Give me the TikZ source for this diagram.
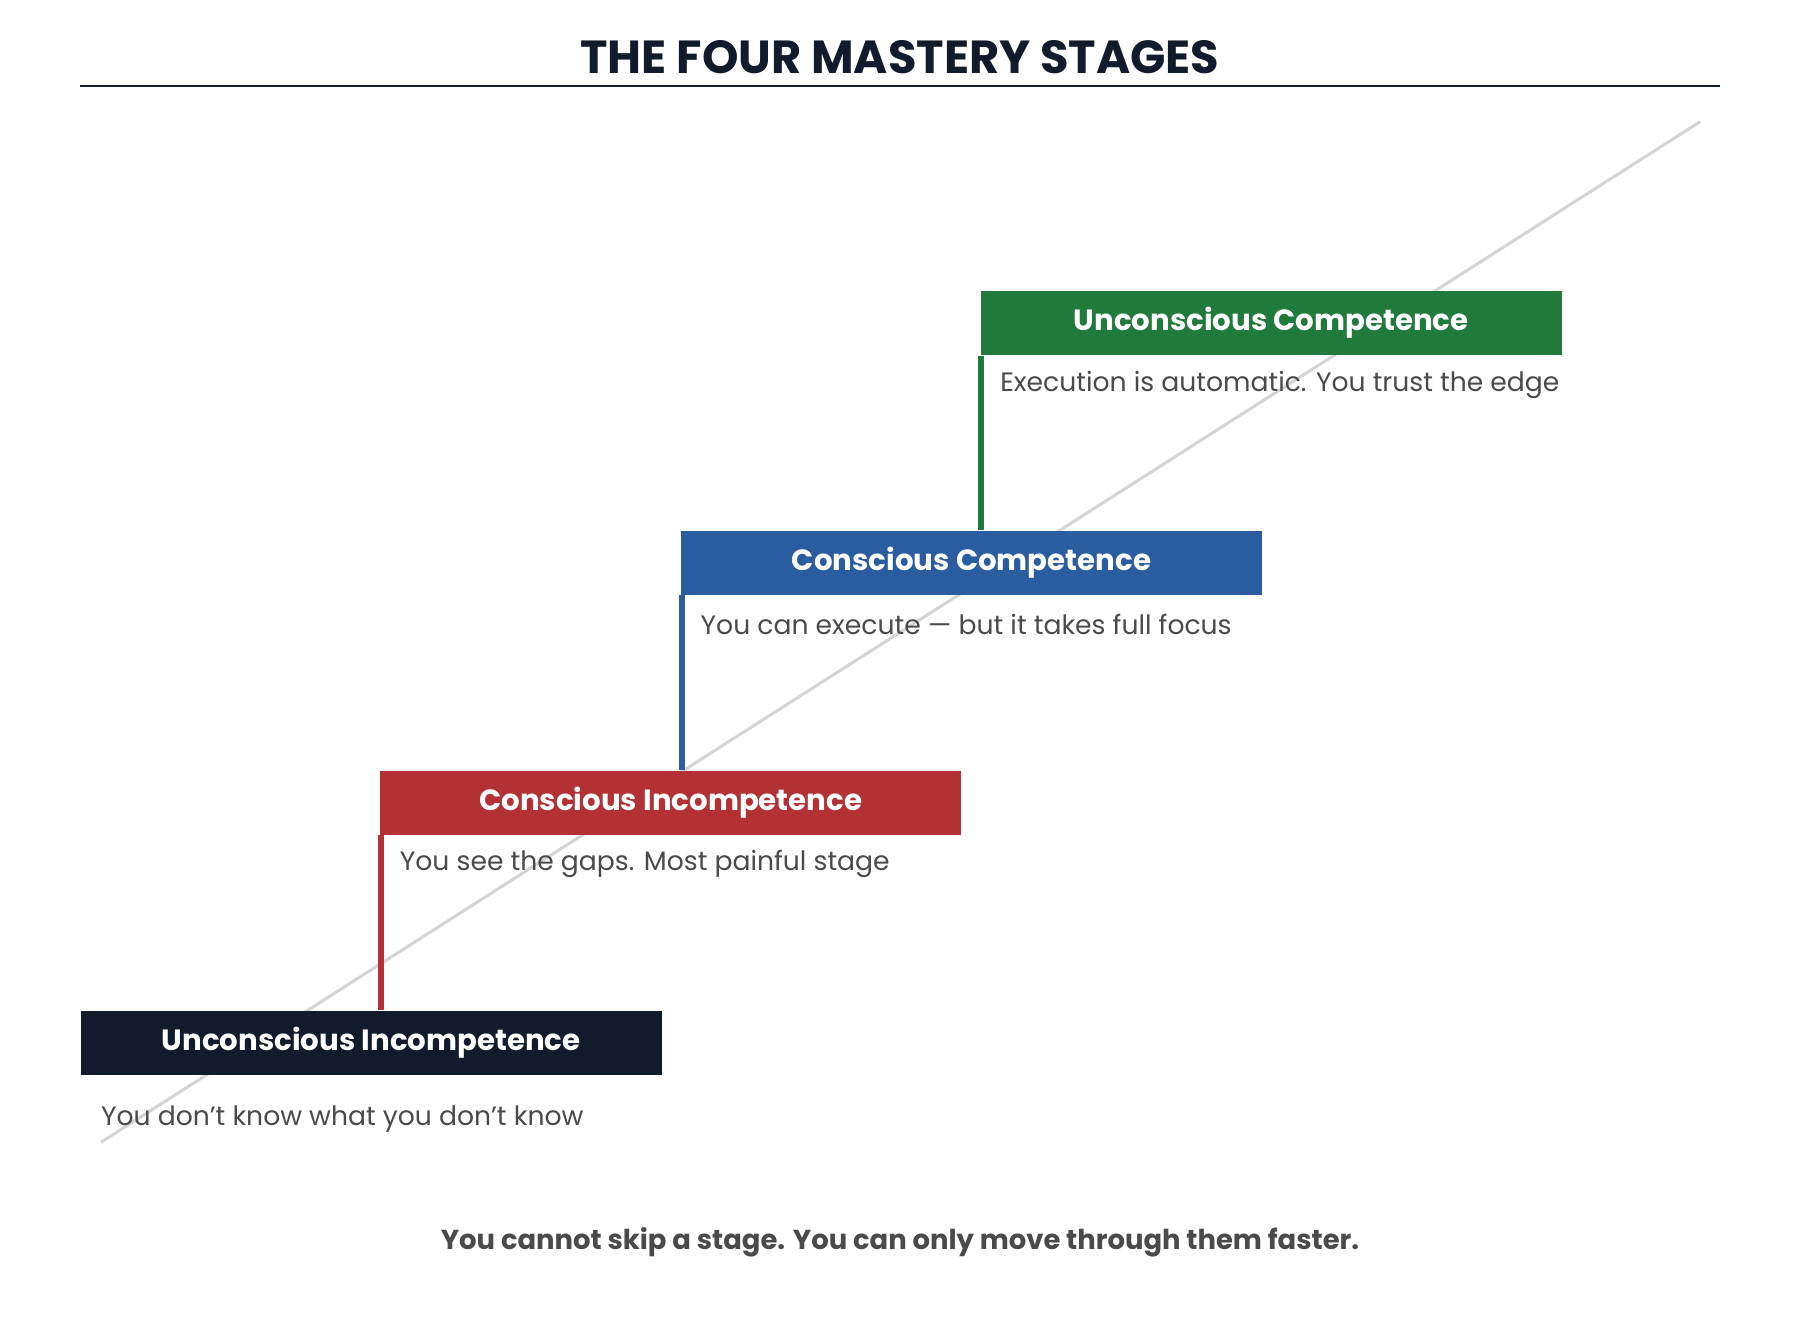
\documentclass[tikz,border=0pt]{standalone}
\usepackage{fontspec}
\setmainfont{Poppins}
\usetikzlibrary{positioning}
\definecolor{navy}{HTML}{111B2B}
\definecolor{stagered}{HTML}{B33035}
\definecolor{stageblue}{HTML}{2A5CA0}
\definecolor{stagegreen}{HTML}{1F7A3C}
\definecolor{txtgray}{HTML}{4A4A4A}
\begin{document}
\begin{tikzpicture}
        [
            x=0.02cm, y=-0.02cm,
            stage/.style = {fill=#1, text=white, font=\fontsize{14.5}{16}\selectfont\bfseries,
                minimum width=10.12cm, minimum height=1.12cm, inner sep=0pt, anchor=north west},
            desc/.style = {text=txtgray, font=\fontsize{13.2}{15}\selectfont, anchor=west, inner sep=0pt},
            riser/.style = {draw=#1, line width=3pt}
        ]%
        \useasboundingbox (0,0) rectangle (1568,1149);
        \node[text=navy, font=\fontsize{23}{26}\selectfont\bfseries] (title) at (784,50) {THE FOUR MASTERY STAGES};
        \draw[navy, line width=1.2pt] (70,75) -- (1498,75);
        \coordinate (low) at (88,995);
        \coordinate (high) at (1481,106);
        \draw[black!17, line width=1.5pt] (low) -- (high);
        \node[stage=navy] (ui) at (70,880) {Unconscious Incompetence};
        \node[desc, below right=0.52cm and -9.78cm of ui.south east] (uitext) {You don't know what you don't know};
        \node[stage=stagered] (ci) at (331,671) {Conscious Incompetence};
        \node[desc] (citext) at (348,753) {You see the gaps. Most painful stage};
        \node[stage=stageblue] (cc) at (593,462) {Conscious Competence};
        \node[desc] (cctext) at (610,544) {You can execute — but it takes full focus};
        \node[stage=stagegreen] (uc) at (854,253) {Unconscious Competence};
        \node[desc] (uctext) at (871,335) {Execution is automatic. You trust the edge};
        \draw[riser=stagered] ([xshift=0.5pt]ci.south west) -- ([xshift=0.5pt]ci.south west |- ui.north);
        \draw[riser=stageblue] ([xshift=0.5pt]cc.south west) -- ([xshift=0.5pt]cc.south west |- ci.north);
        \draw[riser=stagegreen] ([xshift=0.5pt]uc.south west) -- ([xshift=0.5pt]uc.south west |- cc.north);
        \node[text=txtgray, font=\fontsize{13.6}{15}\selectfont\bfseries] (footer) at (784,1082) {You cannot skip a stage. You can only move through them faster.};
\end{tikzpicture}
\end{document}
